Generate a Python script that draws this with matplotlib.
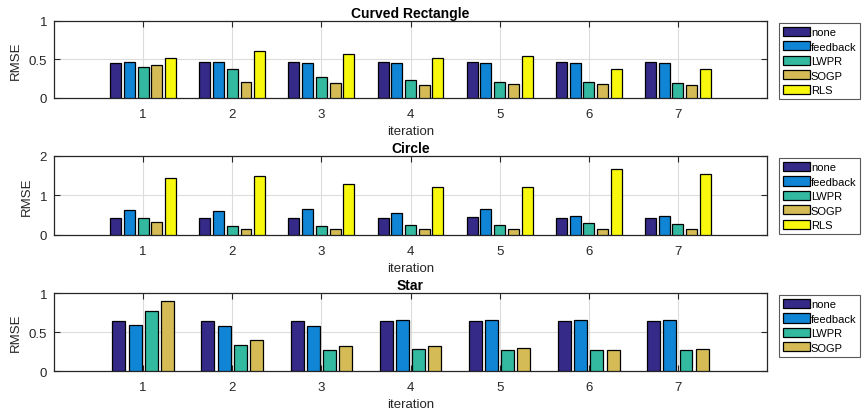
import numpy as np
import matplotlib
matplotlib.use("Agg")
import matplotlib.pyplot as plt

iterations = [1, 2, 3, 4, 5, 6, 7]

# Curved Rectangle
rect_none = [0.457, 0.466, 0.466, 0.466, 0.470, 0.470, 0.470]
rect_feedback = [0.466, 0.466, 0.457, 0.457, 0.457, 0.457, 0.457]
rect_lwpr = [0.405, 0.375, 0.272, 0.237, 0.207, 0.211, 0.198]
rect_sogp = [0.427, 0.203, 0.194, 0.164, 0.177, 0.177, 0.164]
rect_rls = [0.517, 0.616, 0.573, 0.517, 0.543, 0.379, 0.371]

# Circle
circ_none = [0.427, 0.427, 0.436, 0.436, 0.453, 0.427, 0.427]
circ_feedback = [0.632, 0.607, 0.667, 0.556, 0.650, 0.470, 0.470]
circ_lwpr = [0.419, 0.239, 0.231, 0.248, 0.256, 0.299, 0.290]
circ_sogp = [0.316, 0.162, 0.162, 0.162, 0.162, 0.162, 0.162]
circ_rls = [1.436, 1.496, 1.300, 1.222, 1.205, 1.675, 1.556]

# Star
star_none = [0.639, 0.644, 0.639, 0.644, 0.644, 0.644, 0.644]
star_feedback = [0.588, 0.575, 0.579, 0.652, 0.652, 0.652, 0.652]
star_lwpr = [0.768, 0.330, 0.266, 0.279, 0.266, 0.266, 0.266]
star_sogp = [0.897, 0.395, 0.322, 0.322, 0.296, 0.275, 0.279]

labels = ["none", "feedback", "LWPR", "SOGP", "RLS"]
colors = ["#352a87", "#1185d5", "#33b9a0", "#d4bb56", "#f8f80f"]

plt.rcParams["font.family"] = ["Liberation Sans", "DejaVu Sans"]
plt.rcParams["font.size"] = 8

fig = plt.figure(figsize=(8.63, 4.14), dpi=100)

panels = [
    ("Curved Rectangle", [rect_none, rect_feedback, rect_lwpr, rect_sogp, rect_rls],
     [0.0626, 0.7609, 0.8262, 0.186], 1, [0, 0.5, 1], ["0", "0.5", "1"]),
    ("Circle", [circ_none, circ_feedback, circ_lwpr, circ_sogp, circ_rls],
     [0.0626, 0.430, 0.8262, 0.1908], 2, [0, 1, 2], ["0", "1", "2"]),
    ("Star", [star_none, star_feedback, star_lwpr, star_sogp],
     [0.0626, 0.1014, 0.8262, 0.1884], 1, [0, 0.5, 1], ["0", "0.5", "1"]),
]

x = np.array(iterations)
dark = "#262626"
for title, series, pos, ymax, yt, ytl in panels:
    ax = fig.add_axes(pos)
    n = len(series)
    # matlab-style grouped bar spacing
    gw = min(0.8, n / (n + 1.5))
    step = gw / n
    for i, vals in enumerate(series):
        off = (i - (n - 1) / 2) * step
        ax.bar(x + off, vals, width=step * 0.8, color=colors[i],
               edgecolor="black", linewidth=0.9, label=labels[i], zorder=3)
    ax.set_xlim(0, 8)
    ax.set_ylim(0, ymax)
    ax.set_xticks(iterations)
    ax.set_yticks(yt)
    ax.set_yticklabels(ytl)
    ax.grid(True, color="#dcdcdc", linewidth=0.8, zorder=0)
    ax.set_axisbelow(True)
    ax.tick_params(direction="in", top=True, right=True, length=4.5,
                   colors=dark, labelcolor=dark, labelsize=9.5, pad=5)
    ax.tick_params(axis="x", pad=7)
    for s in ax.spines.values():
        s.set_color(dark)
        s.set_linewidth(0.9)
    ax.set_title(title, fontsize=10, fontweight="bold", pad=3)
    ax.set_xlabel("iteration", fontsize=9.5, color=dark, labelpad=4)
    ax.set_ylabel("RMSE", fontsize=9.5, color=dark, labelpad=5)
    leg = ax.legend(loc="upper left", bbox_to_anchor=(1.017, 0.975),
                    borderaxespad=0, fontsize=8, handlelength=2.4,
                    handleheight=0.9, labelspacing=0.36, handletextpad=0.1,
                    borderpad=0.35, fancybox=False, framealpha=1)
    leg.get_frame().set_edgecolor("#5a5a5a")
    leg.get_frame().set_linewidth(0.8)

fig.savefig("out.png", dpi=100)
